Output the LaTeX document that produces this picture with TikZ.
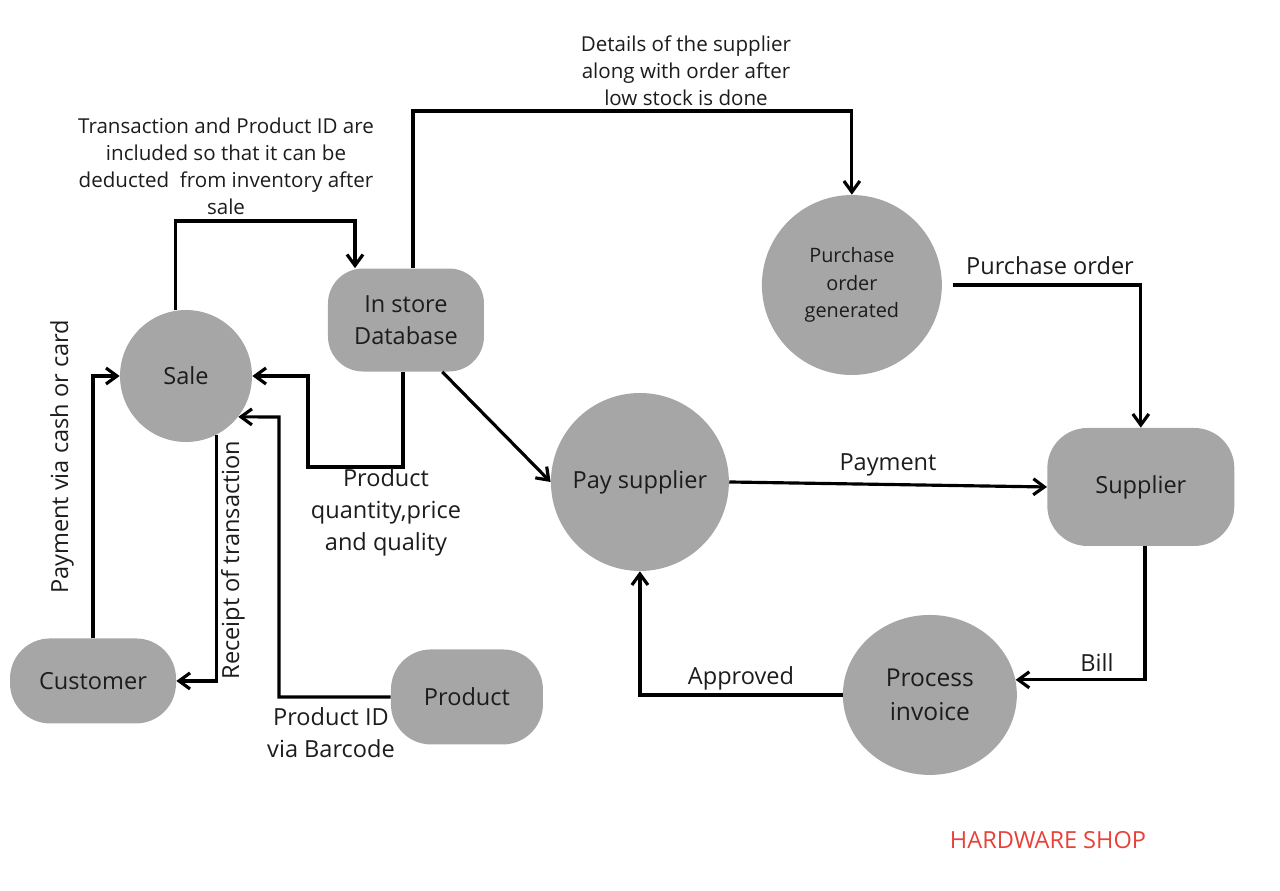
\documentclass[tikz,border=0pt]{standalone}
\usepackage{fontspec}
\setmainfont{Open Sans}
\usepackage{tikz}
\usetikzlibrary{positioning, shapes, arrows.meta}
\definecolor{shopgray}{RGB}{166,166,166}
\definecolor{shopink}{RGB}{28,28,28}
\definecolor{shopred}{RGB}{232,65,58}
\newcommand{\nodetxt}{\fontsize{13.4}{18.2}\selectfont}
\newcommand{\notetxt}{\fontsize{11.7}{15.4}\selectfont}

\begin{document}
\begin{tikzpicture}[x=0.02cm, y=-0.02cm, on grid,
  proc/.style={circle, fill=shopgray, inner sep=0pt, align=center, text=shopink, font=\nodetxt},
  store/.style={rectangle, fill=shopgray, rounded corners=0.8cm, inner sep=0pt, align=center, text=shopink, font=\nodetxt},
  note/.style={align=center, inner sep=0pt, text=shopink, font=\nodetxt},
  arr/.style={-{Straight Barb[length=2.2mm, width=3.2mm]}, line width=1.8pt, black}
]
\useasboundingbox (0,0) rectangle (1280,891);

\node[proc, minimum size=2.64cm] (sale) at (186,376) {Sale};
\node[store, minimum width=3.12cm, minimum height=2.06cm, rounded corners=0.7cm, above right=1.12cm and 4.4cm of sale] (db) {In store\\Database};
\node[store, minimum width=3.32cm, minimum height=1.7cm, below left=6.1cm and 1.86cm of sale] (cust) {Customer};
\node[store, minimum width=3.04cm, minimum height=1.9cm, below right=7.54cm and 1.22cm of db] (prod) {Product};
\node[proc, minimum size=3.56cm, below right=3.24cm and 4.68cm of db] (pay) {Pay supplier};
\node[store, minimum width=3.74cm, minimum height=2.36cm, below right=0.1cm and 10.02cm of pay] (sup) {Supplier};
\node[proc, minimum size=3.6cm, font=\fontsize{11.3}{15.6}\selectfont, above left=4.04cm and 5.78cm of sup] (pog) {Purchase\\order\\generated};
\node[ellipse, fill=shopgray, inner sep=0pt, minimum width=3.48cm, minimum height=3.2cm, align=center, text=shopink, font=\fontsize{14}{19.3}\selectfont, below left=4.16cm and 4.22cm of sup] (inv) {Process\\invoice};

% flows around the sale
\draw[arr] (sale.99) |- (355,221) -- (355,0 |- db.north);
\draw[arr] (403,0 |- db.south) -- (403,467) -- (308,467) |- (sale.east);
\draw[arr] (prod.west) -| (279,417) -- (sale.-38);
\draw[arr] (sale.-63) |- (cust.east);
\draw[arr] (cust.north) |- (sale.west);

% flows to the supplier
\draw[arr] (413,0 |- db.north) |- (pog.north |- 0,111) -- (pog.north);
\draw[arr] (db.-55) -- (pay.west);
\draw[arr] (pay.east) -- (sup.west);
\draw[arr] ([xshift=0.22cm]pog.east) -| (sup.north);
\draw[arr] (1145,0 |- sup.south) |- (inv.10);
\draw[arr] (inv.west) -| (pay.south);

\node[note, font=\notetxt] (trlbl) at (226,166) {Transaction and Product ID are\\included so that it can be\\deducted\ \ from inventory after\\sale};
\node[note, font=\notetxt] (dtlbl) at (686,71) {Details of the supplier\\along with order after\\low stock is done};
\node[note] (pqlbl) at (386,512) {Product\\quantity,price\\and quality};
\node[note] (pidlbl) at (331,733) {Product ID\\via Barcode};
\node[note, rotate=90] (paylbl) at (62,457) {Payment via cash or card};
\node[note, rotate=90] (rclbl) at (233,560) {Receipt of transaction};
\node[note] (pmlbl) at (888,465) {Payment};
\node[note] (polbl) at (1050,266) {Purchase order};
\node[note] (billlbl) at (1097,663) {Bill};
\node[note] (aplbl) at (741,678) {Approved};
\node[note, text=shopred] (title) at (1048,840) {HARDWARE SHOP};
\end{tikzpicture}
\end{document}
